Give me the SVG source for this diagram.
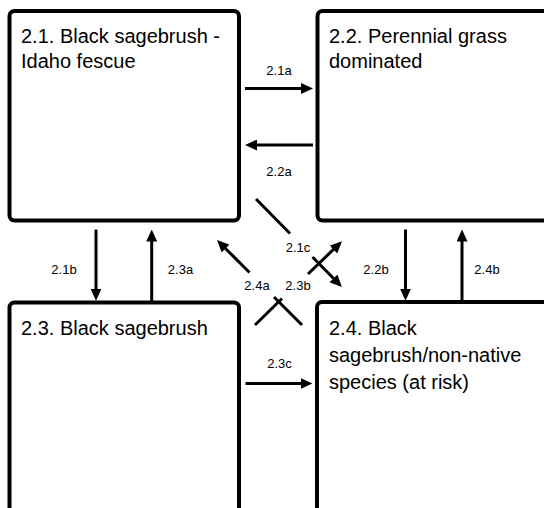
<svg xmlns="http://www.w3.org/2000/svg" width="544" height="508" viewBox="0 0 544 508">
  <style>
    .box { fill: #ffffff; stroke: #000000; stroke-width: 4; }
    .title { font-family: "Liberation Sans", Arial, sans-serif; font-size: 20px; fill: #000000; }
    .lbl { font-family: "Liberation Sans", Arial, sans-serif; font-size: 13px; fill: #000000; text-anchor: middle; }
    .arrow { stroke: #000000; stroke-width: 3; fill: none; }
  </style>
  <defs>
    <marker id="head" viewBox="0 0 12 11" refX="4" refY="5.5" markerWidth="12" markerHeight="11" markerUnits="userSpaceOnUse" orient="auto">
      <path d="M0,0 L12,5.5 L0,11 Z" fill="#000000"/>
    </marker>
  </defs>
  <rect width="544" height="508" fill="#ffffff"/>

  <g id="state-2-1">
    <rect class="box" x="9.5" y="11" width="229.5" height="209.5" rx="5"/>
    <text class="title" x="21" y="43">2.1. Black sagebrush -</text>
    <text class="title" x="21" y="68">Idaho fescue</text>
  </g>

  <g id="state-2-2">
    <rect class="box" x="317.5" y="11" width="240" height="209.5" rx="5"/>
    <text class="title" x="329" y="43">2.2. Perennial grass</text>
    <text class="title" x="329" y="68">dominated</text>
  </g>

  <g id="state-2-3">
    <rect class="box" x="9.5" y="302.5" width="229.5" height="230" rx="5"/>
    <text class="title" x="21" y="335">2.3. Black sagebrush</text>
  </g>

  <g id="state-2-4">
    <rect class="box" x="317" y="302" width="240" height="230" rx="5"/>
    <text class="title" x="329" y="335">2.4. Black</text>
    <text class="title" x="329" y="362">sagebrush/non-native</text>
    <text class="title" x="329" y="389">species (at risk)</text>
  </g>

  <g id="connectors">
    <!-- horizontal transitions -->
    <line class="arrow" x1="245" y1="88.5" x2="305" y2="88.5" marker-end="url(#head)"/>
    <line class="arrow" x1="313" y1="145" x2="253" y2="145" marker-end="url(#head)"/>
    <line class="arrow" x1="245.5" y1="383.5" x2="304.5" y2="383.5" marker-end="url(#head)"/>
    <!-- vertical transitions -->
    <line class="arrow" x1="96" y1="229.5" x2="96" y2="292.7" marker-end="url(#head)"/>
    <line class="arrow" x1="151.7" y1="301" x2="151.7" y2="237.5" marker-end="url(#head)"/>
    <line class="arrow" x1="405.5" y1="229.5" x2="405.5" y2="292.7" marker-end="url(#head)"/>
    <line class="arrow" x1="462" y1="301" x2="462" y2="237.5" marker-end="url(#head)"/>
    <!-- diagonal transitions, split around their labels -->
    <line class="arrow" x1="256" y1="199" x2="290" y2="233.5"/>
    <line class="arrow" x1="312.5" y1="257" x2="336.3" y2="281.3" marker-end="url(#head)"/>
    <line class="arrow" x1="255" y1="325" x2="282" y2="298.5"/>
    <line class="arrow" x1="308" y1="274" x2="336.3" y2="246.7" marker-end="url(#head)"/>
    <line class="arrow" x1="302" y1="325" x2="274" y2="297"/>
    <line class="arrow" x1="249.5" y1="272.5" x2="222.7" y2="245.7" marker-end="url(#head)"/>

    <text class="lbl" x="279" y="75">2.1a</text>
    <text class="lbl" x="279" y="176">2.2a</text>
    <text class="lbl" x="279.5" y="368">2.3c</text>
    <text class="lbl" x="64" y="274">2.1b</text>
    <text class="lbl" x="180.5" y="274">2.3a</text>
    <text class="lbl" x="376" y="274">2.2b</text>
    <text class="lbl" x="487" y="274">2.4b</text>
    <text class="lbl" x="298" y="252">2.1c</text>
    <text class="lbl" x="257" y="290">2.4a</text>
    <text class="lbl" x="298" y="290">2.3b</text>
  </g>
</svg>
